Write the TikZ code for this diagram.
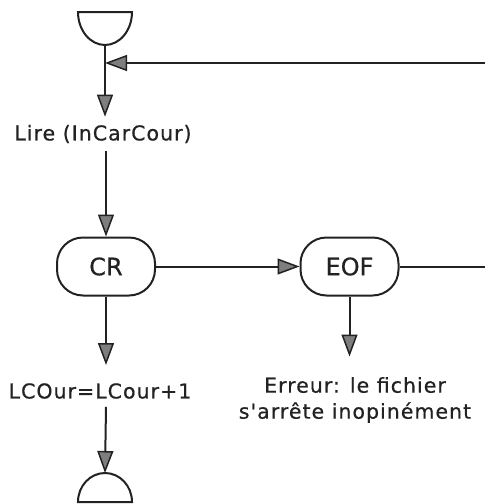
\documentclass[tikz,border=0pt]{standalone}
\usepackage{fontspec}
\setmainfont{DejaVu Sans}[FakeBold=0.6]
\newfontfamily\labelfont{DejaVu Sans}[LetterSpace=5,FakeBold=0.6]
\usetikzlibrary{arrows.meta}
\definecolor{ink}{HTML}{222222}
\definecolor{headfill}{HTML}{7E7E7E}
\tikzset{
  flow/.style={draw=ink, line width=2pt, -{Triangle[length=22pt,width=16pt,fill=headfill,line width=1.5pt]}},
  plain/.style={draw=ink, line width=2pt},
  decision/.style={draw=ink, line width=2pt, rounded corners=26pt, minimum width=98pt, minimum height=58pt, inner sep=0pt, font=\fontsize{24}{26}\selectfont, text=ink},
  label/.style={inner sep=0pt, align=center, font=\labelfont\fontsize{20.5}{26}\selectfont, text=ink},
}
\begin{document}
\begin{tikzpicture}[x=1pt,y=-1pt]
\useasboundingbox (0,0) rectangle (485,504);
% top terminator
\draw[plain] (78,12) -- (132,12) arc[start angle=0, end angle=180, x radius=27, y radius=33] -- cycle;
\coordinate (top) at (105,45);
\coordinate (join) at (105,63);
\coordinate (loopin) at (485,63);
\node[label] (lire) at (103,134) {Lire (InCarCour)};
\node[decision] (cr) at (106,266.5) {CR};
\node[decision] (eof) at (349.5,266.5) {EOF};
\coordinate (eofout) at (485,266.5);
\node[label] (lc) at (100,391) {LCOur=LCour+1};
\node[label] (err) at (355,400) {Erreur: le fichier\\s'arrête inopinément};
% bottom terminator
\draw[plain] (78,502) -- (132,502) arc[start angle=0, end angle=180, x radius=27, y radius=-29] -- cycle;
\coordinate (bot) at (105,473);
% connectors
\draw[plain] (top) -- (join);
\draw[flow] (join) -- ([yshift=8pt]lire.north -| join);
\draw[flow] (loopin) -- (join);
\draw[flow] ([yshift=-8pt]lire.south -| cr.north) -- (cr.north);
\draw[flow] (cr.east) -- (eof.west);
\draw[plain] (eof.east) -- (eofout);
\draw[flow] (eof.south) -- ++(0,60);
\draw[flow] (cr.south) -- ([yshift=18pt]lc.north -| cr.south);
\draw[flow] ([yshift=-8pt]lc.south -| cr.south) -- (bot);
\end{tikzpicture}
\end{document}
